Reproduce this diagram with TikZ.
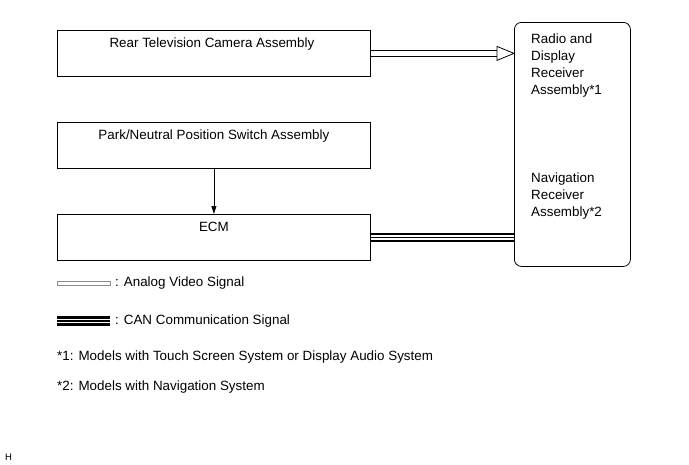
\documentclass[tikz,border=0pt]{standalone}
\usepackage{fontspec}
\setmainfont{Liberation Sans}
\usepackage{xcolor}
\usetikzlibrary{positioning, calc, arrows.meta}
\definecolor{videogray}{HTML}{8C8C8C}

\tikzset{
  unitbox/.style={draw, line width=0.8pt, minimum width=313pt, minimum height=46pt,
                  inner sep=0pt, anchor=north west},
  boxlabel/.style={inner sep=0pt, anchor=north},
  videobar/.style={draw=black, line width=0.8pt, fill=white},
  legvideo/.style={draw=videogray, line width=0.7pt, fill=white},
  canline/.style={draw=black, line width=9.5pt,
                  postaction={draw=white, line width=4.6pt},
                  postaction={draw=black, line width=1.2pt}},
  notetext/.style={inner sep=0pt, anchor=west}
}

\begin{document}
\begin{tikzpicture}[x=1pt, y=-1pt, font=\fontsize{13.4}{16.8}\selectfont]
    \useasboundingbox (0,0) rectangle (689,464);

    % units on the left
    \node[unitbox] (cam) at (57,30) {};
    \node[unitbox] (park) at (57,122) {};
    \node[unitbox] (ecm) at (57,214) {};
    \node[boxlabel, below=8pt of cam.north, xshift=-2pt] (camtext) {Rear Television Camera Assembly};
    \node[boxlabel, below=8pt of park.north] (parktext) {Park/Neutral Position Switch Assembly};
    \node[boxlabel, below=8pt of ecm.north] (ecmtext) {ECM};

    % receiver
    \node[draw, line width=0.8pt, rounded corners=7pt, minimum width=116pt, minimum height=244pt,
          anchor=north west] (radio) at (514,22) {};
    \node[inner sep=0pt, anchor=north west, align=left, below right=12pt and 17pt of radio.north west]
      (radiotext) {Radio and\\Display\\Receiver\\Assembly*1};
    \node[inner sep=0pt, anchor=north west, align=left, below right=151pt and 17pt of radio.north west]
      (navitext) {Navigation\\Receiver\\Assembly*2};

    % signals
    \coordinate (vtip) at (cam.east -| radio.west);
    \draw[videobar] ($(cam.east)+(0,-3)$) rectangle ($(vtip)+(-17,3)$);
    \draw[line width=0.8pt, fill=white, line join=miter]
      ($(vtip)+(-17,-7)$) -- (vtip) -- ($(vtip)+(-17,7)$) -- cycle;
    \draw[line width=0.8pt, -{Triangle[length=8pt, width=5pt]}] (park.south) -- (ecm.north);
    \draw[canline] (ecm.east) -- (ecm.east -| radio.west);

    % legend
    \coordinate (vidA) at (57,283);
    \coordinate (vidB) at (110,283);
    \coordinate (canA) at (57,321);
    \coordinate (canB) at (110,321);
    \draw[legvideo] ($(vidA)+(0,-2)$) rectangle ($(vidB)+(0,2)$);
    \draw[canline] (canA) -- (canB);
    \node[notetext, right=5pt of vidB] (vidtext) {: Analog Video Signal};
    \node[notetext, right=5pt of canB] (cantext) {: CAN Communication Signal};
    \node[notetext] (note1) at (57,357) {*1: Models with Touch Screen System or Display Audio System};
    \node[notetext] (note2) at (57,387) {*2: Models with Navigation System};

    \node[notetext, font=\fontsize{9.5}{11}\selectfont] (hmark) at (5,457) {H};
\end{tikzpicture}
\end{document}
